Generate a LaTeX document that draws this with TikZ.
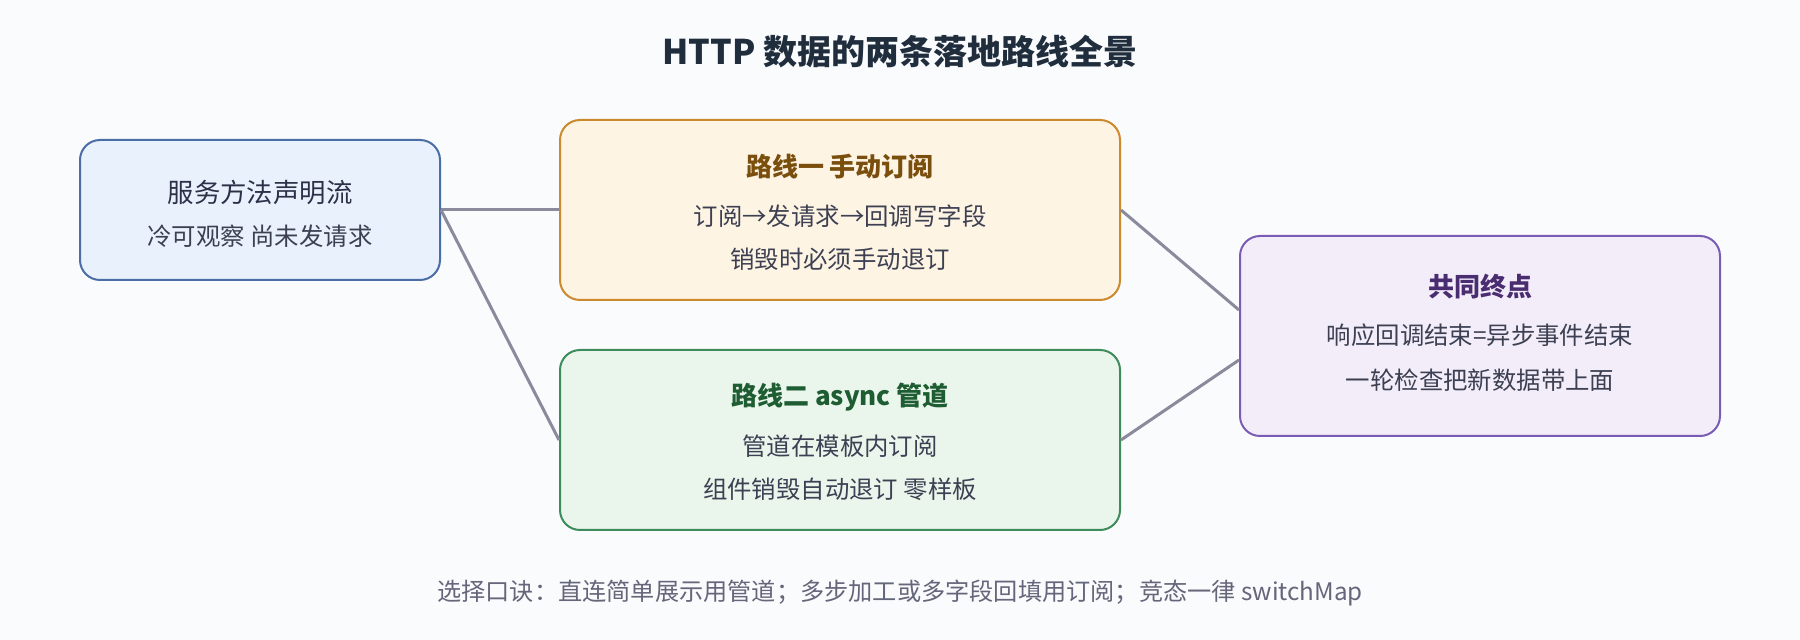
\documentclass[tikz,border=0pt]{standalone}
\usepackage{fontspec}
\setmainfont{Noto Sans CJK SC}
\definecolor{bgcol}{HTML}{FAFBFD}
\definecolor{titlecol}{HTML}{1F2D3D}
\definecolor{bodycol}{HTML}{3C4052}
\definecolor{notecol}{HTML}{64667A}
\definecolor{linkcol}{HTML}{8A8A9C}
\definecolor{srcfill}{HTML}{E9F1FD}
\definecolor{srcline}{HTML}{4A6EA5}
\definecolor{srchead}{HTML}{2C3148}
\definecolor{onefill}{HTML}{FEF4E3}
\definecolor{oneline}{HTML}{CC8A2E}
\definecolor{onehead}{HTML}{7A4E0C}
\definecolor{twofill}{HTML}{EAF6EC}
\definecolor{twoline}{HTML}{3E8B5B}
\definecolor{twohead}{HTML}{1E5C32}
\definecolor{endfill}{HTML}{F3EDFA}
\definecolor{endline}{HTML}{7B5CB5}
\definecolor{endhead}{HTML}{4A2D70}
\begin{document}
\begin{tikzpicture}[x=0.5pt,y=-0.5pt,
  box/.style={draw,rounded corners=10pt,line width=1pt,inner sep=0pt},
  link/.style={draw=linkcol,line width=1.5pt},
  head/.style={font=\fontsize{13}{15}\selectfont\bfseries},
  body/.style={font=\fontsize{12.2}{14}\selectfont,text=bodycol}]
\fill[bgcol] (0,0) rectangle (1800,640);
\useasboundingbox (0,0) rectangle (1800,640);
\node[font=\fontsize{17}{20}\selectfont\bfseries,text=titlecol] (title) at (900,52) {HTTP 数据的两条落地路线全景};
% boxes
\node[box,draw=srcline,fill=srcfill,minimum width=180pt,minimum height=70pt] (src) at (260,210) {};
\node[box,draw=oneline,fill=onefill,minimum width=280pt,minimum height=90pt] (one) at (840,210) {};
\node[box,draw=twoline,fill=twofill,minimum width=280pt,minimum height=90pt] (two) at (840,440) {};
\node[box,draw=endline,fill=endfill,minimum width=240pt,minimum height=100pt] (end) at (1480,336) {};
% links
\draw[link] (src.east) -- (one.west);
\draw[link] (src.east) -- (two.west);
\draw[link] (one.east) -- ([yshift=13pt]end.west);
\draw[link] (two.east) -- ([yshift=-12pt]end.west);
% texts
\node[font=\fontsize{13.2}{15}\selectfont,text=srchead] (srca) at (260,192) {服务方法声明流};
\node[body] (srcb) at (260,236) {冷可观察 尚未发请求};
\node[head,text=onehead] (onet) at (840,167) {路线一 手动订阅};
\node[body] (onea) at (840,216) {订阅→发请求→回调写字段};
\node[body] (oneb) at (840,259) {销毁时必须手动退订};
\node[head,text=twohead] (twot) at (840,397) {路线二 async 管道};
\node[body] (twoa) at (840,446) {管道在模板内订阅};
\node[body] (twob) at (840,489) {组件销毁自动退订 零样板};
\node[head,text=endhead] (endt) at (1480,287) {共同终点};
\node[body] (enda) at (1480,335) {响应回调结束=异步事件结束};
\node[body] (endb) at (1480,380) {一轮检查把新数据带上面};
\node[font=\fontsize{12.1}{14}\selectfont,text=notecol] (note) at (900,593) {选择口诀：直连简单展示用管道；多步加工或多字段回填用订阅；竞态一律 switchMap};
\end{tikzpicture}
\end{document}
